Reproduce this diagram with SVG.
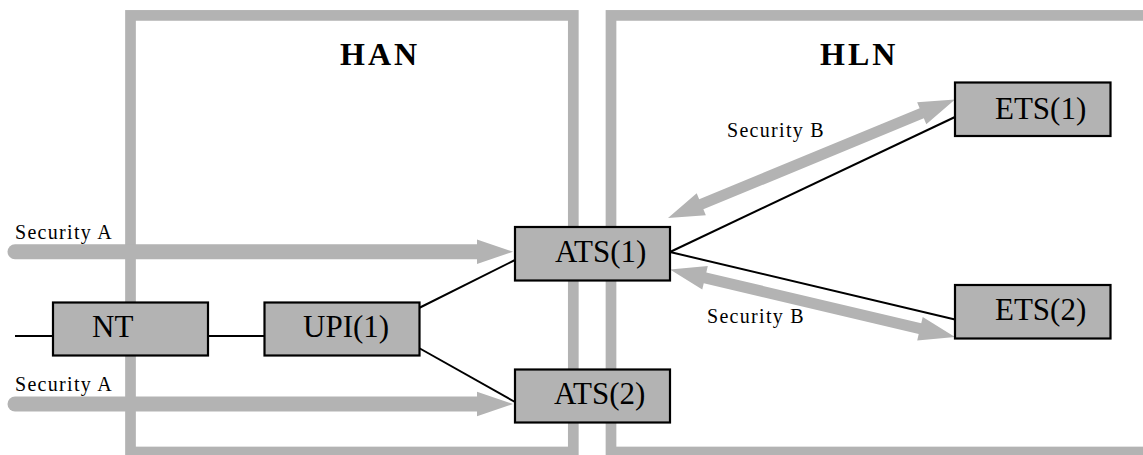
<svg xmlns="http://www.w3.org/2000/svg" width="1143" height="455" viewBox="0 0 1143 455">
<style>
.zone{fill:none;stroke:#b3b3b3;stroke-width:10.7}
.ztitle{font-family:"Liberation Serif",serif;font-weight:bold;font-size:32px;letter-spacing:3px;fill:#000}
.box{fill:#b3b3b3;stroke:#000;stroke-width:2.2}
.ntext{font-family:"Liberation Serif",serif;font-size:31px;fill:#000}
.link{stroke:#000;stroke-width:2;fill:none}
.shaft{stroke:#b3b3b3;stroke-width:15;stroke-linecap:round;fill:none}
.head{fill:#b3b3b3;stroke:none}
.lbl{font-family:"Liberation Serif",serif;font-size:20px;letter-spacing:1.3px;fill:#000}
</style>
<rect width="1143" height="455" fill="#fff"/>
<g id="zone-han">
<rect class="zone" x="130.5" y="15.4" width="442.8" height="436.6"/>
<text class="ztitle" x="340" y="65">HAN</text>
</g>
<g id="zone-hln">
<rect class="zone" x="611" y="15.4" width="560" height="436.6"/>
<text class="ztitle" x="820" y="65">HLN</text>
</g>
<g id="connectors">
<line class="shaft" x1="15" y1="251.7" x2="480" y2="251.7"/>
<polygon class="head" points="477,239.5 513,251.7 477,263.9"/>
<line class="shaft" x1="15" y1="404" x2="480" y2="404"/>
<polygon class="head" points="477,391.8 513,404 477,416.2"/>
<polygon class="head" points="668,218 705.85,215.35 703.37,209.34 923.83,118.32 926.31,124.33 955,99.5 917.15,102.15 919.63,108.16 699.17,199.18 696.69,193.17"/>
<polygon class="head" points="670,269.5 702.26,289.48 703.76,283.15 918.70,334.05 917.20,340.38 955,337 922.74,317.02 921.24,323.35 706.30,272.45 707.80,266.12"/>
<line class="link" x1="15" y1="336" x2="53" y2="336"/>
<line class="link" x1="208" y1="336" x2="264" y2="336"/>
<line class="link" x1="419" y1="308" x2="515" y2="260"/>
<line class="link" x1="419" y1="348" x2="515" y2="402"/>
<line class="link" x1="670" y1="252" x2="955" y2="117"/>
<line class="link" x1="670" y1="252" x2="955" y2="319.5"/>
<text class="lbl" x="15" y="238.5">Security A</text>
<text class="lbl" x="15" y="390.5">Security A</text>
<text class="lbl" x="727" y="136.5">Security B</text>
<text class="lbl" x="707" y="323">Security B</text>
</g>
<g id="node-nt">
<rect class="box" x="53" y="302.5" width="155" height="53"/>
<text class="ntext" x="92" y="337">NT</text>
</g>
<g id="node-upi1">
<rect class="box" x="264.5" y="302.5" width="155" height="53"/>
<text class="ntext" x="303" y="337">UPI(1)</text>
</g>
<g id="node-ats1">
<rect class="box" x="515" y="227" width="155" height="53.5"/>
<text class="ntext" x="555" y="262">ATS(1)</text>
</g>
<g id="node-ats2">
<rect class="box" x="515" y="369.5" width="155" height="53"/>
<text class="ntext" x="554" y="404">ATS(2)</text>
</g>
<g id="node-ets1">
<rect class="box" x="955" y="82.5" width="155.5" height="53.5"/>
<text class="ntext" x="995" y="118.5">ETS(1)</text>
</g>
<g id="node-ets2">
<rect class="box" x="955" y="285" width="155.5" height="53.5"/>
<text class="ntext" x="995" y="320">ETS(2)</text>
</g>
</svg>
